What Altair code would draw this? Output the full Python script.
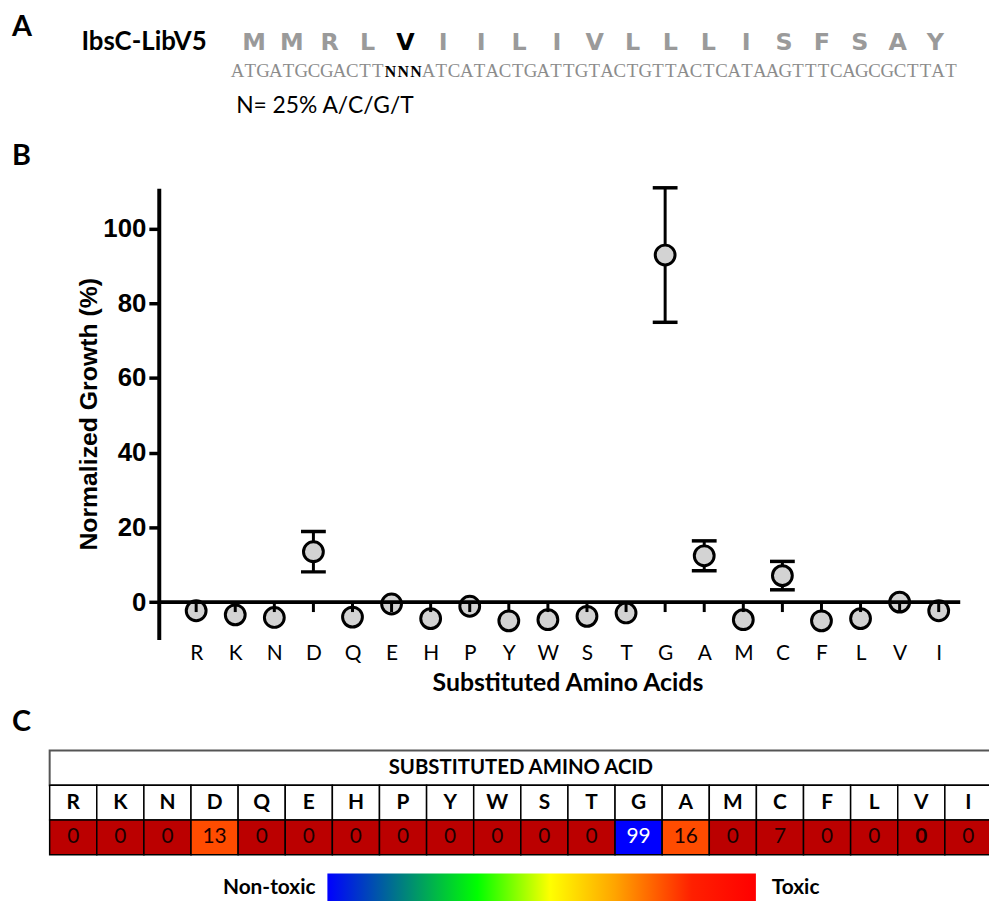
import altair as alt
import pandas as pd

# ---------------- data ----------------
amino = ["R", "K", "N", "D", "Q", "E", "H", "P", "Y", "W",
         "S", "T", "G", "A", "M", "C", "F", "L", "V", "I"]
growth_mean = [-2.3, -3.4, -4.1, 13.5, -4.0, -0.5, -4.4, -1.1, -5.0, -4.7,
               -3.8, -2.9, 92.9, 12.4, -4.7, 7.1, -5.0, -4.4, 0.0, -2.3]
growth_err = [1.0, 1.0, 1.0, 5.4, 1.0, 1.0, 1.0, 1.0, 1.0, 1.0,
              1.0, 1.0, 18.0, 4.0, 1.0, 3.8, 1.0, 1.0, 1.0, 1.0]
toxicity = [0, 0, 0, 13, 0, 0, 0, 0, 0, 0, 0, 0, 99, 16, 0, 7, 0, 0, 0, 0]
y_ticks = [0, 20, 40, 60, 80, 100]

protein_seq = list("MMRLVIILIVLLLISFSAY")
dna_seq = list("ATGATGCGACTTNNNATCATACTGATTGTACTGTTACTCATAAGTTTCAGCGCTTAT")
mutated_codon = 4

FONT_C = "Lato"
FONT_A = "Liberation Sans"

df = pd.DataFrame({"aa": amino, "mean": growth_mean, "err": growth_err})
tab = pd.DataFrame({"aa": amino, "tox": toxicity})
prot = pd.DataFrame({"i": list(range(len(protein_seq))), "ch": protein_seq})
dna = pd.DataFrame({"j": list(range(len(dna_seq))), "ch": dna_seq})
one = pd.DataFrame({"k": [0]})

W, H = 788, 455

# ---------------- panel B ----------------
xs = alt.Scale(domain=amino, type="point", padding=0.5)
ys = alt.Scale(domain=[-10, 110.8], nice=False, zero=False)

x_axis = alt.Axis(
    title="Substituted Amino Acids", ticks=False, domain=False,
    labelAngle=0, labelFont=FONT_C, labelFontSize=21, labelColor="black",
    labelPadding=3, titleFont=FONT_C, titleFontSize=25, titleFontWeight="bold",
    titleColor="black", titlePadding=7)
y_axis = alt.Axis(values=y_ticks, offset=18, domainWidth=4, domainColor="black",
                  tickWidth=3.5, tickSize=10, tickColor="black",
                  labelFont=FONT_A, labelFontSize=26, labelFontWeight="bold",
                  labelColor="black", labelPadding=3, grid=False,
                  title="Normalized Growth (%)", titleFont=FONT_A,
                  titleFontSize=25, titleFontWeight="bold", titleColor="black",
                  titlePadding=1)

def bx():
    return alt.X("aa:N", scale=xs, sort=amino, axis=x_axis,
                 title="Substituted Amino Acids")

def by(field):
    return alt.Y(field, scale=ys, axis=y_axis, title="Normalized Growth (%)")

base = alt.Chart(df).transform_calculate(
    lo="datum.mean - datum.err", hi="datum.mean + datum.err")

err_rule = base.mark_rule(strokeWidth=3, color="black").encode(
    x=bx(), y=by("lo:Q"), y2="hi:Q")
cap_lo = base.transform_filter("datum.err > 2").mark_tick(
    size=25, thickness=3.5, color="black", opacity=1).encode(x=bx(), y=by("lo:Q"))
cap_hi = base.transform_filter("datum.err > 2").mark_tick(
    size=25, thickness=3.5, color="black", opacity=1).encode(x=bx(), y=by("hi:Q"))
pts = base.mark_point(shape="circle", filled=True, fill="#D3D3D3", stroke="black",
                      strokeWidth=3, size=400, opacity=1).encode(x=bx(), y=by("mean:Q"))
zero_line = alt.Chart(one).mark_rule(strokeWidth=4, color="black").encode(
    y=alt.datum(0, scale=ys, axis=y_axis, title="Normalized Growth (%)"),
    x=alt.value(-18), x2=alt.value(790))
xticks = alt.Chart(df).mark_tick(orient="vertical", size=10, thickness=3,
                                 yOffset=5, color="black", opacity=1).encode(
    x=bx(), y=alt.datum(0, scale=ys, axis=y_axis, title="Normalized Growth (%)"))

panel_b = alt.layer(err_rule, cap_lo, cap_hi, pts, zero_line, xticks)

# ---------------- panel C (table) ----------------
tx = alt.Scale(domain=amino, type="band", range=[-128, 822], paddingInner=0, paddingOuter=0)
ty = alt.Scale(domain=["hdr", "aa", "val"], type="band", range=[567, 672],
               paddingInner=0, paddingOuter=0)
tcx = alt.X("aa:N", scale=tx, sort=amino, axis=None)

hdr = alt.Chart(one).transform_calculate(row='"hdr"').mark_rect(
    fill="white", stroke="#555", strokeWidth=2).encode(
    x=alt.value(-128), x2=alt.value(822), y=alt.Y("row:N", scale=ty, axis=None))
hdr_txt = alt.Chart(one).transform_calculate(row='"hdr"').mark_text(
    text="SUBSTITUTED AMINO ACID", font=FONT_C, fontSize=20.5, fontWeight="bold",
    color="black", baseline="middle", align="center").encode(
    x=alt.value(347), y=alt.Y("row:N", scale=ty, axis=None))
aa_cells = alt.Chart(tab).transform_calculate(row='"aa"').mark_rect(
    fill="white", stroke="black", strokeWidth=1.5).encode(
    x=tcx, y=alt.Y("row:N", scale=ty, axis=None))
aa_txt = alt.Chart(tab).transform_calculate(row='"aa"').mark_text(
    font=FONT_C, fontSize=21, fontWeight="bold", color="black", baseline="middle").encode(
    x=tcx, y=alt.Y("row:N", scale=ty, axis=None), text="aa:N")
val_cells = alt.Chart(tab).transform_calculate(row='"val"').mark_rect(
    stroke="black", strokeWidth=1.5, opacity=1).encode(
    x=tcx, y=alt.Y("row:N", scale=ty, axis=None),
    color=alt.Color("tox:Q", legend=None, scale=alt.Scale(
        type="threshold", domain=[10, 50], range=["#BB0000", "#FF4C00", "#0000FF"])))
val_txt = alt.Chart(tab).transform_calculate(row='"val"').transform_filter(
    "datum.aa != 'V'").mark_text(font=FONT_C, fontSize=21, baseline="middle").encode(
    x=tcx, y=alt.Y("row:N", scale=ty, axis=None), text="tox:Q",
    color=alt.condition("datum.tox > 50", alt.value("white"), alt.value("#1a0000")))
val_txt_b = alt.Chart(tab).transform_calculate(row='"val"').transform_filter(
    "datum.aa == 'V'").mark_text(font=FONT_C, fontSize=21, fontWeight="bold",
                                 baseline="middle", color="#1a0000").encode(
    x=tcx, y=alt.Y("row:N", scale=ty, axis=None), text="tox:Q")

panel_c = alt.layer(hdr, hdr_txt, aa_cells, aa_txt, val_cells, val_txt, val_txt_b)

grad = alt.Chart(one).mark_rect(color=alt.Gradient(
    gradient="linear", x1=0, x2=1, y1=0, y2=0,
    stops=[alt.GradientStop(offset=0, color="#0000FF"),
           alt.GradientStop(offset=0.35, color="#00FF00"),
           alt.GradientStop(offset=0.52, color="#FFFF00"),
           alt.GradientStop(offset=0.67, color="#FFA500"),
           alt.GradientStop(offset=0.85, color="#FF2000"),
           alt.GradientStop(offset=1, color="#FF0000")])).encode(
    x=alt.value(152), x2=alt.value(584), y=alt.value(691), y2=alt.value(723))

def label(txt, x, y, size, weight="bold", font=FONT_C, align="left", color="black"):
    return alt.Chart(one).mark_text(text=txt, font=font, fontSize=size, fontWeight=weight,
                                    align=align, baseline="alphabetic", color=color).encode(
        x=alt.value(x), y=alt.value(y))

# ---------------- panel A ----------------
prot_txt = alt.Chart(prot).mark_text(font="DejaVu Sans", fontSize=24, fontWeight="bold",
                                     baseline="alphabetic").encode(
    x=alt.X("i:O", scale=alt.Scale(domain=list(range(len(protein_seq))), type="point",
                                   range=[78, 765], padding=0), axis=None),
    y=alt.value(-139), text="ch:N",
    color=alt.condition(f"datum.i == {mutated_codon}", alt.value("black"), alt.value("#9a9a9a")))

dscale = alt.Scale(domain=list(range(len(dna_seq))), type="point", range=[61.4, 780.6], padding=0)
dna_gray = alt.Chart(dna).transform_filter("datum.ch != 'N'").mark_text(
    font="Liberation Serif", fontSize=19, baseline="alphabetic", color="#8c8c8c").encode(
    x=alt.X("j:O", scale=dscale, axis=None), y=alt.value(-112), text="ch:N")
dna_bold = alt.Chart(dna).transform_filter("datum.ch == 'N'").mark_text(
    font="Liberation Serif", fontSize=16, fontWeight="bold", baseline="alphabetic",
    color="black").encode(
    x=alt.X("j:O", scale=dscale, axis=None), y=alt.value(-112), text="ch:N")

texts = [
    label("A", -166, -153, 29),
    label("B", -166, -23, 29),
    label("C", -166, 547, 29),
    label("IbsC-LibV5", -96, -139, 26),
    label("N= 25% A/C/G/T", 60, -76, 23, weight="normal"),
    label("Non-toxic", 140, 712, 21, align="right"),
    label("Toxic", 600, 712, 21),
]

chart = alt.layer(panel_b, panel_c, grad, prot_txt, dna_gray, dna_bold, *texts).resolve_scale(
    x="independent", y="independent", color="independent"
).properties(
    width=W, height=H,
    autosize=alt.AutoSizeParams(type="none"),
    padding={"left": 170, "top": 178, "right": 31, "bottom": 260},
    background="white",
).configure_view(stroke=None)

chart.save("out.html", embed_options={"renderer": "svg", "actions": False})
